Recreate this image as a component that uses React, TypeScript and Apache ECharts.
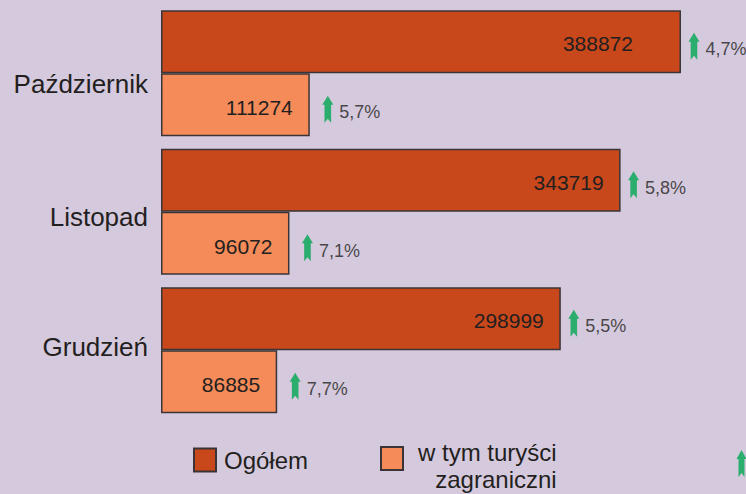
import React, { useEffect, useRef } from 'react';
import * as echarts from 'echarts';

const categories = ['Październik', 'Listopad', 'Grudzień'];
const ogolem = [388872, 343719, 298999];
const zagraniczni = [111274, 96072, 86885];
const ogolemZmiana = ['4,7%', '5,8%', '5,5%'];
const zagraniczniZmiana = ['5,7%', '7,1%', '7,7%'];

const FONT = 'Liberation Sans, Arial, sans-serif';
const TEXT = '#231f20';
const DARK = '#c9481b';
const LIGHT = '#f58b58';
const GREEN = '#00a651';
const BORDER = '#3a3436';
const ARROW = 'path://M5 0 L10 9 L8 9 L8 27 L5 23 L2 27 L2 9 L0 9 Z';

// vertical fine-tuning of the category labels (px, positive = down)
const labelShift = [11, 5, -3];

export default function App() {
  const ref = useRef<HTMLDivElement>(null);
  useEffect(() => {
    if (!ref.current) return;
    const chart = echarts.init(ref.current, null, { renderer: 'svg' });
    const rich: Record<string, any> = {};
    labelShift.forEach((s, i) => {
      rich['c' + i] = {
        fontSize: 26,
        fontFamily: FONT,
        color: TEXT,
        padding: s >= 0 ? [2 * s, 0, 0, 0] : [0, 0, -2 * s, 0],
      };
    });
    const arrowSeries = (vals: number[], pct: string[], off: number[]) => ({
      type: 'scatter',
      name: 'wzrost',
      symbol: ARROW,
      symbolSize: [11, 27],
      symbolOffset: off,
      itemStyle: { color: GREEN },
      z: 5,
      label: {
        show: true,
        position: 'right',
        distance: 6,
        offset: [0, 3],
        fontSize: 18,
        fontFamily: FONT,
        color: TEXT,
        formatter: (p: any) => pct[p.dataIndex],
      },
      data: vals.map((v, i) => [v, categories[i]]),
    });
    chart.setOption({
      animation: false,
      backgroundColor: '#d5c9dd',
      textStyle: { fontFamily: FONT },
      grid: { left: 161, right: 0, top: 4, bottom: 74.5 },
      xAxis: { type: 'value', min: 0, max: 437500, show: false },
      yAxis: {
        type: 'category',
        data: categories,
        inverse: true,
        axisLine: { show: false },
        axisTick: { show: false },
        axisLabel: {
          interval: 0,
          margin: 13,
          fontSize: 26,
          color: TEXT,
          fontFamily: FONT,
          formatter: (v: string, i: number) => `{c${i}|${v}}`,
          rich,
        },
      },
      legend: [
        {
          data: ['Ogółem'],
          left: 193,
          top: 447.5,
          padding: 0,
          itemWidth: 22,
          itemHeight: 23,
          icon: 'rect',
          textStyle: { fontSize: 24, color: TEXT, fontFamily: FONT, padding: [16, 0, 0, 3] },
        },
        {
          data: ['w tym turyści zagraniczni'],
          left: 380,
          top: 440,
          padding: 0,
          itemWidth: 22,
          itemHeight: 23,
          icon: 'rect',
          formatter: () => '{a|w tym turyści}\n{b|zagraniczni}',
          textStyle: {
            padding: [14, 0, 0, 10],
            rich: {
              a: { fontSize: 24, lineHeight: 27, color: TEXT, fontFamily: FONT },
              b: { fontSize: 24, lineHeight: 27, color: TEXT, fontFamily: FONT, align: 'right' },
            },
          },
        },
        {
          data: [{ name: 'wzrost', icon: ARROW }],
          left: 736,
          top: 450,
          padding: 0,
          itemWidth: 11,
          itemHeight: 27,
          formatter: () => '',
        },
      ],
      series: [
        {
          type: 'bar',
          name: 'Ogółem',
          barWidth: 63,
          barGap: '0%',
          itemStyle: { color: DARK, borderColor: BORDER, borderWidth: 1.5 },
          label: {
            show: true,
            position: 'insideRight',
            distance: 17,
            offset: [0, 2],
            fontSize: 21,
            color: TEXT,
            fontFamily: FONT,
          },
          data: ogolem.map((v, i) => (i === 0 ? { value: v, label: { distance: 48 } } : v)),
        },
        {
          type: 'bar',
          name: 'w tym turyści zagraniczni',
          barWidth: 63,
          barGap: '0%',
          itemStyle: { color: LIGHT, borderColor: BORDER, borderWidth: 1.5 },
          label: {
            show: true,
            position: 'insideRight',
            distance: 17,
            offset: [0, 3],
            fontSize: 21,
            color: TEXT,
            fontFamily: FONT,
          },
          data: zagraniczni,
        },
        arrowSeries(ogolem, ogolemZmiana, [13, -27]),
        arrowSeries(zagraniczni, zagraniczniZmiana, [18, 36]),
      ],
    });
    return () => chart.dispose();
  }, []);
  return (
    <div
      ref={ref}
      style={{ position: 'absolute', left: 0, top: 0, width: 746, height: 494 }}
    />
  );
}
